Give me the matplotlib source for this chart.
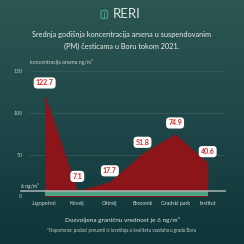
import matplotlib.pyplot as plt
import numpy as np
from matplotlib.colors import LinearSegmentedColormap
from matplotlib.patches import FancyBboxPatch

locations = ["Jugopetrol", "Krivelj", "Oštrelj", "Brezonik", "Gradski park", "Institut"]
arsenic = [122.7, 7.1, 17.7, 51.8, 74.9, 40.6]
limit = 6
yticks = [0, 50, 100, 150]

W = H = 244
fig = plt.figure(figsize=(W / 100, H / 100), dpi=100)

# background gradient
bg = fig.add_axes([0, 0, 1, 1])
cmap = LinearSegmentedColormap.from_list("bg", ["#2c5651", "#1f4749", "#0e3539"])
bg.imshow(np.linspace(0, 1, 256).reshape(-1, 1), aspect="auto", cmap=cmap,
          extent=[0, 1, 0, 1])
bg.set_xlim(0, 1)
bg.set_ylim(0, 1)
bg.axis("off")

def px(x, y):
    return x / W, 1 - y / H

# logo: small shield shape + text
logo = FancyBboxPatch(px(101, 18.5), 6.5 / W, 8 / H,
                      boxstyle="round,pad=0,rounding_size=0.006",
                      transform=fig.transFigure, fc="none", ec="#4c9c7c", lw=0.9)
fig.patches.append(logo)
fig.lines.append(plt.Line2D([104.25 / W, 104.25 / W], [1 - 17.5 / H, 1 - 11.5 / H],
                            transform=fig.transFigure, color="#4c9c7c", lw=0.7))
fig.text(*px(113, 14.5), "RERI", color="#dfe6e2", fontsize=9.5, ha="left", va="center",
         family="Lato")
fig.text(*px(122, 34.5), "Srednja godišnja koncentracija arsena u suspendovanim",
         color="#e8eeec", fontsize=5.3, ha="center", va="center", family="Lato")
fig.text(*px(122, 46.5), "(PM) česticama u Boru tokom 2021.",
         color="#e8eeec", fontsize=5.3, ha="center", va="center", family="Lato")

# plot area
x0, x1 = 30, 224
ytop, ybot = 71, 196.5
ax = fig.add_axes([x0 / W, 1 - ybot / H, (x1 - x0) / W, (ybot - ytop) / H])
ax.set_facecolor("none")
xs = np.arange(len(locations))
ax.set_xlim(-0.45, 5.5)
ax.set_ylim(0, 150)

for t in yticks[1:]:
    ax.axhline(t, color="#4d6e6c", lw=0.5, alpha=0.6, zorder=1)

ax.fill_between(xs, arsenic, color="#8c1519", lw=0, zorder=2)
ax.fill_between(xs, 0, limit, color="#4ea585", lw=0, zorder=3)
ax.plot([-0.72, 5.52], [limit, limit], color="#a9b5b4", lw=1.1, clip_on=False, zorder=4)
ax.text(-0.72, limit + 2.5, "6 ng/m³", color="#e0e6e4", fontsize=3.6, ha="left",
        va="bottom", family="Lato")

for x, v in zip(xs, arsenic):
    ax.text(x, max(v, 11) + 13, f"{v}", color="#d42a2a", fontsize=5, fontweight="bold",
            ha="center", va="center", family="Lato", zorder=6, clip_on=False,
            bbox=dict(boxstyle="round,pad=0.3,rounding_size=0.5", fc="white",
                      ec="none"))

ax.set_xticks(xs)
ax.set_xticklabels(locations, color="#d0d9d7", fontsize=3.8, family="Lato")
ax.set_yticks(yticks)
ax.set_yticklabels([str(t) for t in yticks], color="#b8c6c4", fontsize=3.8, family="Lato")
ax.tick_params(length=0, pad=3)
ax.tick_params(axis="y", pad=5.5)
for s in ax.spines.values():
    s.set_visible(False)

fig.text(*px(30, 62), "koncentracija arsena ng/m³", color="#c6d2d0", fontsize=3.8,
         ha="left", va="center", family="Lato")
fig.text(*px(122, 220), "Dozvoljena graničnu vrednost je 6 ng/m³", color="#dfe6e4",
         fontsize=4.6, ha="center", va="center", family="Lato")
fig.text(*px(122, 230.5),
         "*Napomena: podaci preuzeti iz Izveštaja o kvalitetu vazduha u gradu Boru",
         color="#c0ccca", fontsize=3.3, ha="center", va="center", family="Lato")

fig.savefig("out.png", dpi=100)
